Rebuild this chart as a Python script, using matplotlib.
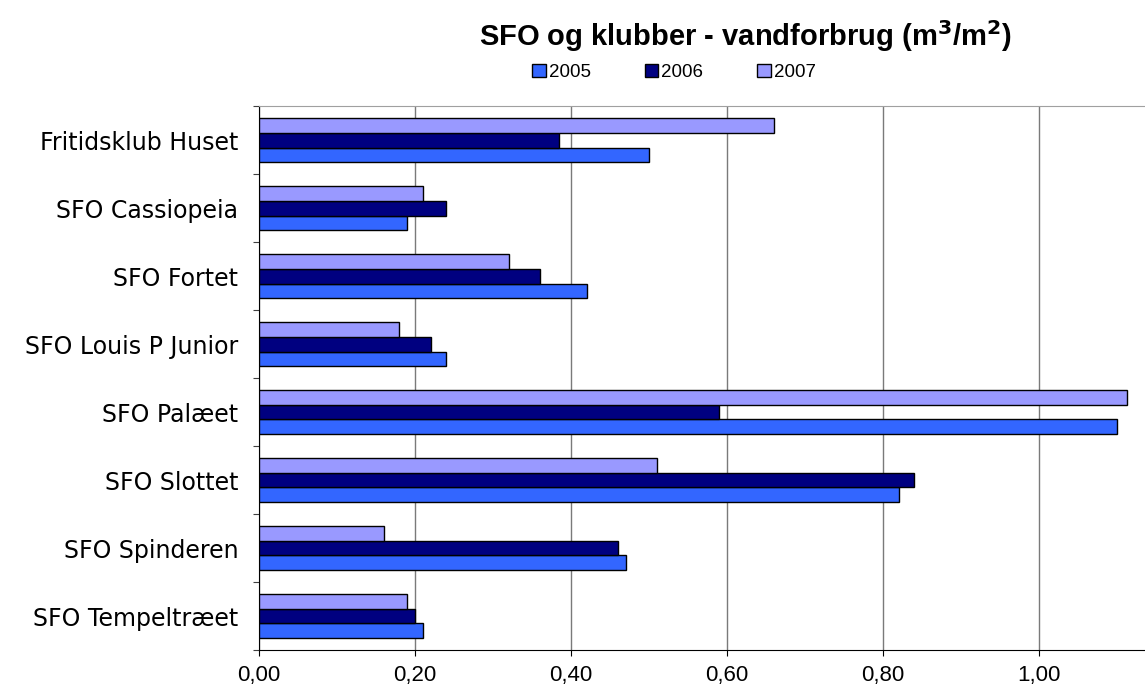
import numpy as np
import matplotlib.pyplot as plt

plt.rcParams['font.family'] = ['Liberation Sans', 'DejaVu Sans']

# data
categories = ['Fritidsklub Huset', 'SFO Cassiopeia', 'SFO Fortet', 'SFO Louis P Junior',
              'SFO Palæet', 'SFO Slottet', 'SFO Spinderen', 'SFO Tempeltræet']
years = ['2005', '2006', '2007']
v2005 = [0.50, 0.19, 0.42, 0.24, 1.10, 0.82, 0.47, 0.21]
v2006 = [0.385, 0.24, 0.36, 0.22, 0.59, 0.84, 0.46, 0.20]
v2007 = [0.66, 0.21, 0.32, 0.18, 1.113, 0.51, 0.16, 0.19]
xticks = [0.0, 0.2, 0.4, 0.6, 0.8, 1.0]
colors = ['#3366FF', '#000080', '#9999FF']

fig = plt.figure(figsize=(11.45, 6.89), dpi=100)
ax = fig.add_axes([0.2262, 0.0566, 0.7738, 0.7895])

y = np.arange(len(categories))
h = 0.22
offsets = [h, 0, -h]  # 2005 bottom, 2007 top (axis inverted)
for vals, col, off, lab in zip([v2005, v2006, v2007], colors, offsets, years):
    ax.barh(y + off, vals, height=h, color=col, edgecolor='black', linewidth=1.0,
            label=lab, zorder=3)

ax.set_ylim(len(categories) - 0.5, -0.5)
ax.set_xlim(0, 1.136)
ax.set_xticks(xticks)
ax.set_xticklabels([f'{v:.2f}'.replace('.', ',') for v in xticks], fontsize=16)
ax.xaxis.grid(True, color='#7a7a7a', linewidth=1.0, zorder=0)

# category ticks at group boundaries, labels centred
ax.set_yticks(np.arange(-0.5, len(categories), 1.0))
ax.set_yticklabels([])
ax.set_yticks(y, minor=True)
ax.set_yticklabels(categories, minor=True, fontsize=17, family='DejaVu Sans')
ax.tick_params(axis='y', which='minor', length=0, pad=15)
ax.tick_params(axis='y', which='major', length=4, direction='out', color='#404040')
ax.tick_params(axis='x', length=4, direction='out', pad=7)

ax.spines['right'].set_visible(False)
ax.spines['top'].set_color('#a0a0a0')
ax.spines['left'].set_color('black')
ax.spines['bottom'].set_color('black')

fig.text(0.651, 0.948, 'SFO og klubber - vandforbrug (m$^\\mathbf{3}$/m$^\\mathbf{2}$)',
         ha='center', va='center', fontsize=21, fontweight='bold')

leg = fig.legend(loc='center', bbox_to_anchor=(0.5886, 0.8945), ncol=3, frameon=False,
                 fontsize=13.5, handlelength=0.7, handleheight=0.7, handletextpad=0.16,
                 columnspacing=2.9)
for p in leg.get_patches():
    p.set_linewidth(1.0)

fig.savefig('out.png', dpi=100)
